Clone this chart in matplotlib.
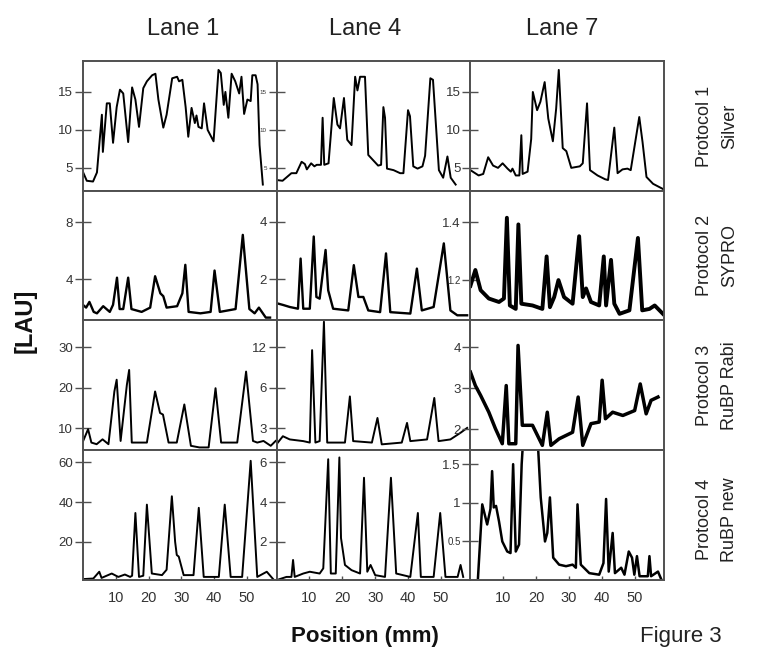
import numpy as np
import matplotlib
matplotlib.use("Agg")
from matplotlib import pyplot as plt
from matplotlib.ticker import NullLocator

plt.rcParams['font.family'] = ['Liberation Sans', 'DejaVu Sans']

lanes = ["Lane 1", "Lane 4", "Lane 7"]
protocols = ["Protocol 1\nSilver", "Protocol 2\nSYPRO", "Protocol 3\nRuBP Rabi", "Protocol 4\nRuBP new"]

# --- Protocol 1 (silver) ---
p1_l1_x = [0, 1.2, 3.1, 4.3, 5.0, 5.8, 6.1, 7.3, 8.2, 9.2, 10.3, 11.3, 12.3, 13.8, 15.0, 16.0, 17.1, 18.4, 19.5,
           21.1, 22.1, 23.0, 24.5, 25.5, 27.2, 28.7, 29.3, 30.3, 31.3, 32.1, 33.1, 34.1, 34.6, 35.2, 36.2, 36.9,
           38.0, 39.8, 41.3, 42.0, 42.9, 43.4, 44.3, 45.3, 46.4, 47.6, 48.3, 49.1, 50.1, 51.1, 51.6, 52.6, 53.2,
           53.8, 54.8]
p1_l1_y = [4.5, 3.3, 3.2, 4.4, 8.0, 12.0, 7.1, 13.5, 13.5, 8.3, 13.0, 15.3, 14.8, 8.4, 15.6, 14.0, 10.4, 15.5, 16.4,
           17.2, 17.4, 14.0, 10.3, 12.0, 16.8, 17.0, 16.4, 16.6, 13.0, 9.1, 12.9, 10.9, 11.9, 10.4, 10.2, 13.5,
           10.0, 8.5, 17.9, 17.5, 13.3, 15.0, 11.6, 17.4, 16.4, 14.8, 17.0, 12.1, 14.0, 13.8, 17.2, 17.2, 16.0,
           8.0, 2.8]
p1_l4_x = [0, 1.8, 4.5, 6.0, 7.6, 8.6, 9.2, 10.5, 11.5, 12.2, 13.5, 14.0, 14.5, 15.8, 17.4, 18.5, 19.3, 20.5, 21.5,
           22.8, 23.9, 24.6, 25.4, 26.9, 27.9, 29.4, 30.9, 31.8, 32.5, 33.0, 33.6, 35.6, 37.6, 38.6, 40.0, 40.6,
           41.6, 42.9, 44.4, 45.2, 46.8, 47.6, 49.4, 50.7, 52.0, 53.0, 54.5]
p1_l4_y = [3.4, 3.3, 4.3, 4.3, 5.8, 5.5, 4.8, 5.6, 5.2, 5.4, 5.4, 11.6, 5.4, 5.6, 14.2, 10.7, 10.2, 14.2, 8.7,
           8.0, 17.0, 15.2, 17.0, 17.0, 6.7, 6.0, 5.3, 5.4, 13.0, 11.6, 4.9, 4.7, 4.3, 4.3, 12.6, 11.8,
           5.2, 4.9, 5.2, 6.6, 16.8, 16.6, 4.7, 3.7, 6.5, 3.7, 2.8]
p1_l7_x = [0, 2.5, 3.9, 5.4, 6.9, 8.4, 9.8, 11.3, 12.3, 12.8, 13.8, 14.9, 15.5, 15.9, 17.4, 18.5, 19.0, 20.3, 21.3,
           22.6, 23.7, 25.1, 26.1, 26.9, 28.1, 29.2, 30.7, 33.3, 34.2, 35.5, 36.4, 38.7, 41.0, 41.9, 43.8, 44.8,
           46.3, 47.8, 48.8, 51.4, 52.4, 53.6, 55.6, 58.7]
p1_l7_y = [4.7, 4.0, 4.2, 6.4, 5.3, 5.0, 5.6, 4.9, 4.5, 4.9, 4.0, 4.0, 9.3, 4.2, 4.5, 8.8, 15.0, 12.6, 13.7,
           16.3, 11.5, 8.5, 12.8, 17.9, 7.6, 7.2, 5.0, 5.2, 5.6, 13.5, 4.7, 4.0, 3.5, 3.4, 10.3, 4.3,
           4.8, 4.9, 4.7, 11.7, 8.4, 3.8, 2.9, 2.2]

# --- Protocol 2 (SYPRO) ---
p2_l1_x = [0, 1.0, 2.0, 3.3, 4.3, 6.2, 8.2, 9.2, 10.4, 11.2, 12.3, 13.8, 14.8, 17.9, 20.5, 22.0, 23.6, 24.5, 25.5,
           28.7, 30.3, 31.2, 32.2, 35.8, 38.9, 40.1, 41.7, 46.5, 48.7, 50.7, 52.3, 53.6, 55.7, 57.0]
p2_l1_y = [2.2, 2.0, 2.4, 1.7, 1.6, 2.1, 1.7, 2.2, 4.1, 1.9, 1.9, 4.1, 1.9, 1.7, 2.0, 4.2, 3.0, 2.8, 2.0,
           2.1, 3.0, 5.0, 1.7, 1.6, 1.7, 4.6, 1.7, 1.9, 7.1, 1.9, 1.6, 2.0, 1.3, 1.3]
p2_l4_x = [0.4, 2.0, 4.0, 6.5, 7.3, 8.1, 10.1, 11.3, 12.1, 13.1, 14.9, 15.7, 17.2, 21.8, 23.5, 24.9, 26.4, 27.9,
           31.5, 33.3, 34.6, 40.7, 42.7, 44.2, 47.8, 50.9, 52.9, 55.0, 58.0]
p2_l4_y = [1.15, 1.1, 1.03, 0.97, 2.72, 0.97, 0.97, 3.49, 1.38, 1.32, 3.02, 1.61, 0.97, 0.91, 2.49, 1.38, 1.38,
           0.91, 0.85, 2.9, 0.85, 0.80, 2.37, 0.91, 1.03, 3.25, 0.91, 0.74, 0.74]
p2_l7_x = [0, 1.5, 3.1, 5.6, 8.7, 10.2, 11.1, 12.0, 13.8, 14.6, 15.5, 18.9, 21.9, 23.2, 24.2, 25.5, 26.8, 28.5,
           31.1, 33.1, 34.2, 35.2, 36.7, 39.2, 40.6, 41.3, 42.8, 43.8, 45.4, 48.4, 51.0, 52.3, 54.5, 56.1, 58.6]
p2_l7_y = [1.18, 1.235, 1.165, 1.136, 1.124, 1.136, 1.416, 1.112, 1.10, 1.393, 1.118, 1.112, 1.10, 1.282, 1.106,
           1.141, 1.20, 1.141, 1.118, 1.352, 1.141, 1.171, 1.124, 1.112, 1.282, 1.112, 1.27, 1.118, 1.083,
           1.095, 1.346, 1.095, 1.10, 1.112, 1.083]

# --- Protocol 3 (RuBP Rabi) ---
p3_l1_x = [0.1, 1.6, 2.6, 4.2, 6.0, 7.8, 9.6, 10.3, 11.5, 13.4, 14.1, 14.9, 16.4, 19.5, 22.0, 23.5, 24.4, 26.1,
           28.6, 30.9, 32.9, 35.5, 38.3, 40.4, 42.1, 47.0, 49.7, 51.8, 53.1, 55.0, 57.2, 58.7]
p3_l1_y = [6.9, 9.8, 6.5, 6.1, 7.3, 6.1, 19.1, 22.0, 6.9, 20.7, 24.4, 6.5, 6.5, 6.5, 19.1, 13.8, 13.4, 6.5,
           6.5, 15.9, 5.7, 5.3, 5.3, 19.9, 6.5, 6.5, 24.0, 6.9, 6.5, 6.9, 5.7, 6.9]
p3_l4_x = [0, 1.9, 4.0, 8.1, 10.1, 10.8, 11.8, 13.1, 14.4, 15.4, 20.8, 22.3, 23.3, 29.0, 30.7, 32.0, 38.1, 39.7,
           40.7, 45.8, 48.0, 49.3, 52.9, 56.0, 58.0]
p3_l4_y = [2.3, 2.63, 2.49, 2.42, 2.36, 11.4, 2.36, 2.42, 18.5, 2.36, 2.36, 5.18, 2.42, 2.36, 3.59, 2.29, 2.36,
           3.3, 2.42, 2.49, 5.05, 2.42, 2.49, 2.79, 3.03]
p3_l7_x = [0, 1.5, 3.1, 5.6, 7.6, 9.7, 10.9, 11.7, 13.8, 14.5, 15.8, 18.9, 21.9, 23.4, 24.5, 27.0, 31.1, 32.8,
           34.2, 36.7, 39.2, 40.1, 41.1, 43.3, 46.4, 50.0, 51.7, 53.5, 55.0, 57.1]
p3_l7_y = [3.40, 3.07, 2.83, 2.42, 2.02, 1.65, 3.07, 1.65, 1.65, 4.05, 2.10, 2.10, 1.61, 2.42, 1.61, 1.77, 1.93,
           2.79, 1.61, 2.14, 2.18, 3.2, 2.26, 2.42, 2.34, 2.46, 3.11, 2.38, 2.71, 2.79]

# --- Protocol 4 (RuBP new) ---
p4_l1_x = [0.1, 3.2, 5.0, 5.7, 8.8, 10.8, 12.8, 14.4, 15.0, 16.0, 17.1, 18.4, 19.5, 21.0, 24.1, 25.5, 27.1, 28.1,
           28.6, 29.2, 30.7, 33.7, 35.3, 36.8, 41.4, 43.2, 45.0, 48.5, 51.1, 53.1, 56.0, 58.2]
p4_l1_y = [1.3, 1.6, 5.0, 1.9, 4.1, 2.4, 3.6, 2.4, 3.0, 34.5, 2.4, 3.0, 38.7, 4.1, 3.3, 6.0, 42.9, 20.0,
           13.4, 12.6, 3.3, 3.3, 37.1, 2.4, 2.4, 38.7, 2.4, 2.4, 60.7, 2.4, 5.0, 0.8]
p4_l4_x = [0, 3.0, 4.5, 5.0, 5.5, 8.1, 10.1, 13.1, 14.2, 15.7, 16.5, 18.0, 19.1, 19.6, 20.8, 22.8, 25.4, 26.6,
           27.6, 28.6, 30.0, 33.0, 34.8, 36.4, 40.7, 43.0, 43.9, 47.8, 49.8, 51.4, 55.1, 56.0, 56.8]
p4_l4_y = [0.08, 0.24, 0.24, 1.09, 0.24, 0.41, 0.50, 0.41, 0.67, 6.15, 0.41, 0.41, 6.24, 2.19, 0.84, 0.58, 0.41,
           5.22, 0.50, 0.84, 0.33, 0.24, 5.22, 0.41, 0.24, 3.45, 0.24, 0.24, 3.45, 0.24, 0.24, 0.84, 0.24]
p4_l7_x = [2.3, 3.6, 5.1, 6.1, 6.6, 7.1, 7.8, 8.7, 9.7, 11.2, 12.2, 13.0, 13.8, 14.8, 15.6, 16.6, 20.0, 21.4,
           22.7, 23.4, 24.2, 25.2, 27.0, 29.1, 31.1, 32.1, 32.6, 33.6, 36.2, 39.2, 40.5, 41.3, 42.1, 43.3, 44.0,
           45.9, 46.9, 48.2, 49.2, 49.9, 50.7, 51.5, 54.0, 54.5, 55.0, 57.1, 58.1]
p4_l7_y = [0.03, 0.98, 0.72, 0.92, 1.41, 0.94, 0.96, 0.76, 0.50, 0.37, 0.35, 1.50, 0.37, 0.46, 1.50, 2.2, 2.2,
           1.07, 0.50, 0.61, 1.07, 0.29, 0.20, 0.18, 0.20, 0.16, 0.98, 0.20, 0.09, 0.07, 0.22, 1.05, 0.11, 0.61,
           0.09, 0.16, 0.07, 0.37, 0.29, 0.07, 0.31, 0.05, 0.05, 0.31, 0.05, 0.11, 0.01]

traces = [[(p1_l1_x, p1_l1_y), (p1_l4_x, p1_l4_y), (p1_l7_x, p1_l7_y)],
          [(p2_l1_x, p2_l1_y), (p2_l4_x, p2_l4_y), (p2_l7_x, p2_l7_y)],
          [(p3_l1_x, p3_l1_y), (p3_l4_x, p3_l4_y), (p3_l7_x, p3_l7_y)],
          [(p4_l1_x, p4_l1_y), (p4_l4_x, p4_l4_y), (p4_l7_x, p4_l7_y)]]

# y ticks / limits per panel
yticks = [[[5, 10, 15], [5, 10, 15], [5, 10, 15]],
          [[4, 8], [2, 4], [1.2, 1.4]],
          [[10, 20, 30], [3, 6, 12], [2, 3, 4]],
          [[20, 40, 60], [2, 4, 6], [0.5, 1, 1.5]]]
ytlabels = [[["5", "10", "15"], ["5", "10", "15"], ["5", "10", "15"]],
            [["4", "8"], ["2", "4"], ["1.2", "1.4"]],
            [["10", "20", "30"], ["3", "6", "12"], ["2", "3", "4"]],
            [["20", "40", "60"], ["2", "4", "6"], ["0.5", "1", "1.5"]]]
ylims = [[(2.0, 19.1), (2.0, 19.1), (2.0, 19.1)],
         [(1.1, 10.2), (0.56, 5.09), (1.06, 1.51)],
         [(4.6, 36.6), (2.07, 18.9), (1.49, 4.66)],
         [(0.8, 66.0), (0.08, 6.6), (0.0, 1.68)]]
xticks = [10, 20, 30, 40, 50]

frame = '#505050'
fig = plt.figure(figsize=(7.67, 6.54), dpi=100)
gs = fig.add_gridspec(4, 3, left=0.108, right=0.866, top=0.907, bottom=0.113, wspace=0, hspace=0)

for r in range(4):
    for c in range(3):
        ax = fig.add_subplot(gs[r, c])
        x, y = traces[r][c]
        lw = 1.4
        if r == 1 and c == 2:
            lw = 2.8
        elif r == 2 and c == 2:
            lw = 2.5
        elif r == 3 and c == 2:
            lw = 1.8
        elif r == 1:
            lw = 1.7
        ax.plot(x, y, color='black', lw=lw, solid_joinstyle='round')
        if r == 2 and c == 1:
            ax.set_yscale('log', base=2)
        ax.set_xlim(0, 59)
        ax.set_ylim(*ylims[r][c])
        ax.set_yticks(yticks[r][c])
        ax.set_yticklabels(ytlabels[r][c])
        ax.yaxis.set_minor_locator(NullLocator())
        ax.tick_params(axis='y', direction='inout', length=12, width=1, color=frame,
                       labelsize=9.5, labelcolor='#333333', pad=1)
        if r == 3:
            ax.set_xticks(xticks)
            ax.tick_params(axis='x', direction='in', length=3, width=1, color=frame,
                           labelsize=10.5, labelcolor='#333333', pad=8)
        else:
            ax.set_xticks([])
        for s in ax.spines.values():
            s.set_color(frame)
            s.set_linewidth(1.4)
        # a few labels are printed much smaller in the figure
        labs = ax.get_yticklabels()
        if r == 0 and c == 1:
            for t in labs:
                t.set_fontsize(4.5)
        if r == 1 and c == 2:
            labs[0].set_fontsize(7)
        if r == 3 and c == 2:
            labs[0].set_fontsize(7)

lane_x = [0.239, 0.476, 0.733]
for lx, name in zip(lane_x, lanes):
    fig.text(lx, 0.955, name, ha='center', va='center', fontsize=17, color='#222222')

row_y = [0.807, 0.610, 0.411, 0.205]
for ry, name in zip(row_y, protocols):
    fig.text(0.935, ry, name, ha='center', va='center', rotation=90, fontsize=13,
             linespacing=1.6, color='#222222')

fig.text(0.033, 0.51, "[LAU]", rotation=90, ha='center', va='center', fontsize=17,
         fontweight='bold', color='#111111')
fig.text(0.476, 0.027, "Position (mm)", ha='center', va='center', fontsize=16,
         fontweight='bold', color='#111111')
fig.text(0.887, 0.027, "Figure 3", ha='center', va='center', fontsize=16, color='#222222')

fig.savefig("out.png", dpi=100)
